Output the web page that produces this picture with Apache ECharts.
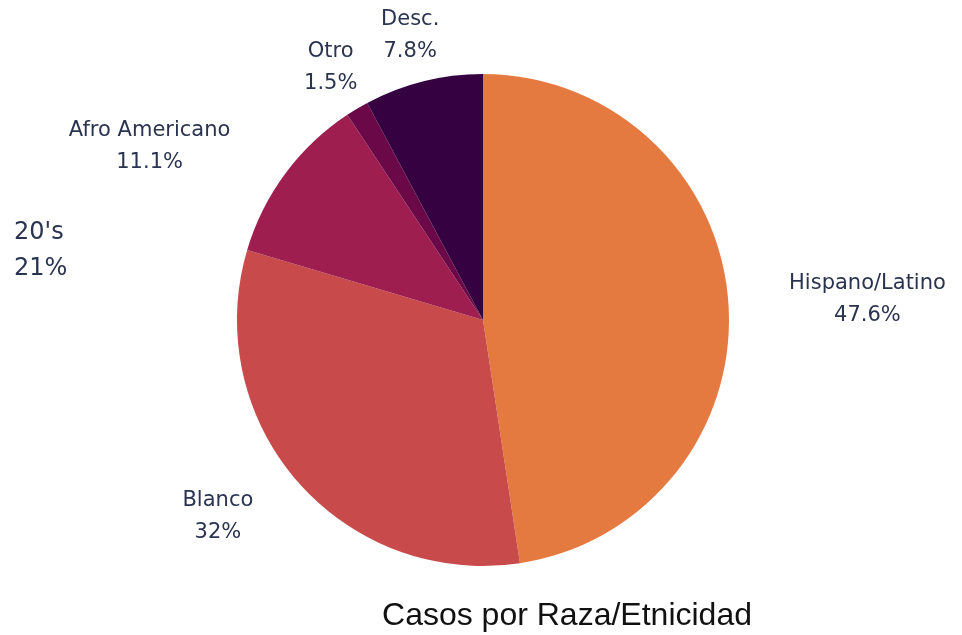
<!DOCTYPE html>
<html>
<head>
<meta charset="utf-8">
<script src="https://cdn.jsdelivr.net/npm/echarts@6/dist/echarts.min.js"></script>
<style>
  html, body { margin: 0; padding: 0; background: #fff; }
  #main { width: 962px; height: 635px; }
</style>
</head>
<body>
<div id="main"></div>
<script>
// datos
const categorias = ['Hispano/Latino', 'Blanco', 'Afro Americano', 'Otro', 'Desc.'];
const valores = [47.6, 32, 11.1, 1.5, 7.8];
const colores = ['#e47a40', '#c84a4a', '#9e1f4f', '#6a0848', '#360140'];
// distancia de la etiqueta al centro y giro (grados)
const distEtiqueta = [385, 330, 376, 295, 294];
const giroEtiqueta = [1.3, 4.5, -9, -0.3, -0.3];

const cx = 483, cy = 320;
const total = valores.reduce((a, b) => a + b, 0);
const medios = [];
let acum = 0;
valores.forEach(v => { medios.push((acum + v / 2) / total * 360); acum += v; });

const chart = echarts.init(document.getElementById('main'));

const option = {
  backgroundColor: '#fff',
  title: {
    text: 'Casos por Raza/Etnicidad',
    left: 562,
    top: 595,
    textAlign: 'center',
    textStyle: {
      fontFamily: 'Liberation Sans',
      fontSize: 32,
      fontWeight: 'normal',
      color: '#111'
    }
  },
  graphic: [{
    type: 'text',
    left: 14,
    top: 215,
    style: {
      text: "20's\n21%",
      font: '24px "DejaVu Sans"',
      fill: '#2a3350',
      lineHeight: 36
    }
  }],
  series: [{
    type: 'pie',
    center: [cx, cy],
    radius: 246,
    startAngle: 90,
    clockwise: true,
    data: categorias.map((c, i) => ({
      name: c,
      value: valores[i],
      itemStyle: { color: colores[i] }
    })),
    label: {
      show: true,
      position: 'outside',
      formatter: p => p.name + '\n' + p.value + '%',
      fontFamily: 'DejaVu Sans',
      fontSize: 21,
      lineHeight: 32,
      color: '#2a3350'
    },
    labelLine: { show: false },
    labelLayout: p => {
      const i = p.dataIndex;
      const a = (medios[i] + giroEtiqueta[i]) * Math.PI / 180;
      return {
        x: cx + distEtiqueta[i] * Math.sin(a),
        y: cy - distEtiqueta[i] * Math.cos(a),
        align: 'center',
        verticalAlign: 'middle'
      };
    },
    emphasis: { disabled: true },
    animation: false
  }]
};

chart.setOption(option);
</script>
</body>
</html>
